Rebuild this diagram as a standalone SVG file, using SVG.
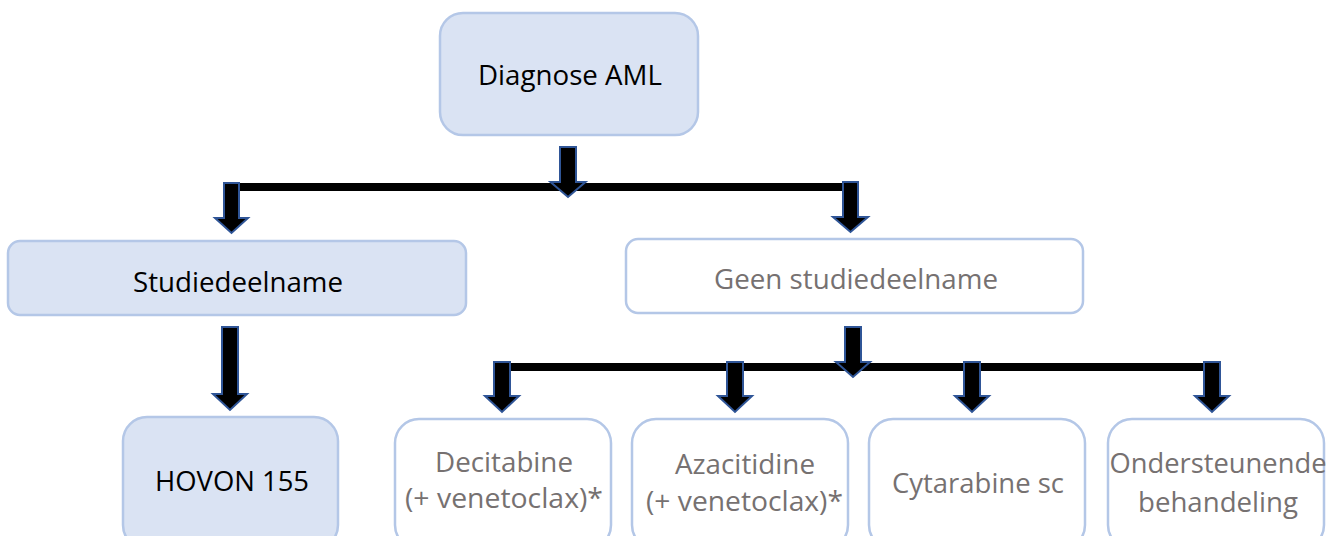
<svg xmlns="http://www.w3.org/2000/svg" width="1338" height="536" viewBox="0 0 1338 536">
  <style>
    .box-fill { fill: #dae3f3; stroke: #b4c7e7; stroke-width: 2.5; }
    .box-plain { fill: #ffffff; stroke: #b4c7e7; stroke-width: 2.5; }
    .lbl { font-family: "Open Sans", "Liberation Sans", sans-serif; font-size: 27px; text-anchor: middle; }
    .dark { fill: #000000; }
    .grey { fill: #767171; }
    .bar { stroke: #000000; stroke-width: 8; fill: none; }
    .arrow { fill: #000000; stroke: #2f5597; stroke-width: 2; stroke-linejoin: miter; }
  </style>

  <rect width="1338" height="536" fill="#ffffff"/>

  <!-- connectors: elbow bars and block arrows -->
  <g id="connectors">
    <line class="bar" x1="231" y1="187" x2="851" y2="187"/>
    <line class="bar" x1="502" y1="367" x2="1212" y2="367"/>
    <!-- Diagnose AML down to the split -->
    <path class="arrow" d="M560,147 H576 V182 H585.5 L568,197 L550.5,182 H560 Z"/>
    <!-- split to Studiedeelname -->
    <path class="arrow" d="M224,183 H239 V218 H248 L231.5,233 L215,218 H224 Z"/>
    <!-- split to Geen studiedeelname -->
    <path class="arrow" d="M843,182 H858 V217 H868 L850.5,232 L833,217 H843 Z"/>
    <!-- Studiedeelname to HOVON 155 -->
    <path class="arrow" d="M222,327 H238 V394 H247 L230,410 L213,394 H222 Z"/>
    <!-- Geen studiedeelname down to the lower split -->
    <path class="arrow" d="M845,327 H861 V362 H870 L853,377 L836,362 H845 Z"/>
    <!-- lower split to the four options -->
    <path class="arrow" d="M494,362 H510 V396 H519 L502,412 L485,396 H494 Z"/>
    <path class="arrow" d="M727,362 H743 V396 H752 L735,412 L718,396 H727 Z"/>
    <path class="arrow" d="M964,362 H980 V396 H989 L972,412 L955,396 H964 Z"/>
    <path class="arrow" d="M1204,362 H1220 V396 H1229 L1212,412 L1195,396 H1204 Z"/>
  </g>

  <g id="node-diagnose">
    <rect class="box-fill" x="440" y="13" width="258" height="122" rx="23"/>
    <text class="lbl dark" x="570" y="85" textLength="184" lengthAdjust="spacingAndGlyphs">Diagnose AML</text>
  </g>

  <g id="node-studie">
    <rect class="box-fill" x="8" y="241" width="458" height="74" rx="12"/>
    <text class="lbl dark" x="238" y="292" textLength="210" lengthAdjust="spacingAndGlyphs">Studiedeelname</text>
  </g>

  <g id="node-geen-studie">
    <rect class="box-plain" x="626" y="239" width="457" height="74" rx="12"/>
    <text class="lbl grey" x="856" y="289" textLength="284" lengthAdjust="spacingAndGlyphs">Geen studiedeelname</text>
  </g>

  <g id="node-hovon">
    <rect class="box-fill" x="123" y="417" width="215" height="132" rx="24"/>
    <text class="lbl dark" x="232" y="491" textLength="154" lengthAdjust="spacingAndGlyphs">HOVON 155</text>
  </g>

  <g id="node-decitabine">
    <rect class="box-plain" x="395" y="419" width="216" height="130" rx="24"/>
    <text class="lbl grey" x="504" y="472" textLength="138" lengthAdjust="spacingAndGlyphs">Decitabine</text>
    <text class="lbl grey" x="504" y="508" textLength="198" lengthAdjust="spacingAndGlyphs">(+ venetoclax)*</text>
  </g>

  <g id="node-azacitidine">
    <rect class="box-plain" x="632" y="419" width="216" height="130" rx="24"/>
    <text class="lbl grey" x="745" y="474" textLength="140" lengthAdjust="spacingAndGlyphs">Azacitidine</text>
    <text class="lbl grey" x="744.5" y="511" textLength="197" lengthAdjust="spacingAndGlyphs">(+ venetoclax)*</text>
  </g>

  <g id="node-cytarabine">
    <rect class="box-plain" x="869" y="419" width="216" height="130" rx="24"/>
    <text class="lbl grey" x="978" y="493" textLength="172" lengthAdjust="spacingAndGlyphs">Cytarabine sc</text>
  </g>

  <g id="node-ondersteunend">
    <rect class="box-plain" x="1108" y="419" width="216" height="130" rx="24"/>
    <text class="lbl grey" x="1218" y="473" textLength="217" lengthAdjust="spacingAndGlyphs">Ondersteunende</text>
    <text class="lbl grey" x="1218" y="512" textLength="160" lengthAdjust="spacingAndGlyphs">behandeling</text>
  </g>
</svg>
